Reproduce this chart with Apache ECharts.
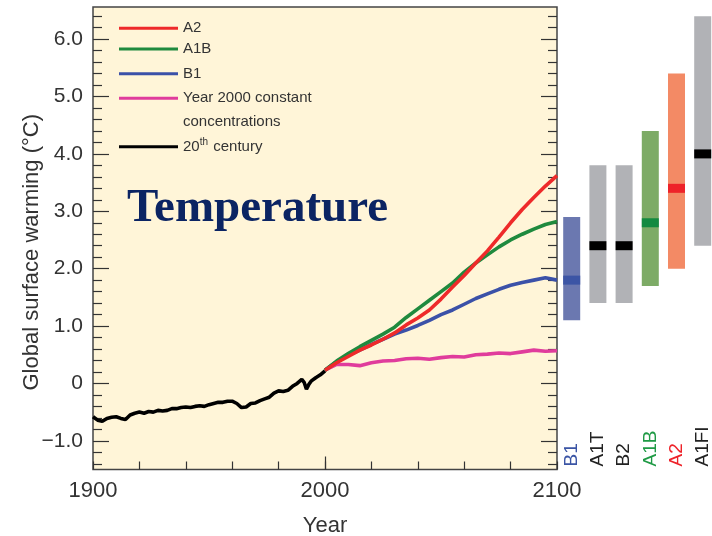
<!DOCTYPE html>
<html>
<head>
<meta charset="utf-8">
<script src="https://cdn.jsdelivr.net/npm/echarts@6/dist/echarts.min.js"></script>
<style>html,body{margin:0;padding:0;background:#fff;}#c{width:712px;height:536px;}</style>
</head>
<body>
<div id="c"></div>
<script>
// ---- data ----
const histYears = [1900,1902,1904,1906,1908,1910,1912,1914,1916,1918,1920,1922,1924,1926,1928,1930,1932,1934,1936,1938,1940,1942,1944,1946,1948,1950,1952,1954,1956,1958,1960,1962,1964,1966,1968,1970,1972,1974,1976,1978,1980,1982,1984,1986,1988,1990,1991,1992,1993,1994,1996,1998,2000];
const histValues = [-0.58,-0.64,-0.66,-0.61,-0.59,-0.58,-0.61,-0.63,-0.55,-0.52,-0.50,-0.52,-0.49,-0.50,-0.47,-0.48,-0.47,-0.44,-0.44,-0.42,-0.41,-0.42,-0.40,-0.39,-0.40,-0.37,-0.35,-0.33,-0.33,-0.31,-0.31,-0.35,-0.42,-0.41,-0.35,-0.34,-0.30,-0.27,-0.24,-0.17,-0.13,-0.14,-0.12,-0.05,0.00,0.07,0.02,-0.10,-0.02,0.04,0.10,0.15,0.22];
const projYears = [2000,2005,2010,2015,2020,2025,2030,2035,2040,2045,2050,2055,2060,2065,2070,2075,2080,2085,2090,2095,2100];
const a2Values   = [0.23,0.36,0.47,0.58,0.67,0.77,0.88,1.02,1.14,1.28,1.47,1.68,1.88,2.10,2.31,2.55,2.80,3.03,3.24,3.44,3.62];
const a1bValues  = [0.23,0.39,0.52,0.64,0.75,0.86,0.98,1.15,1.30,1.45,1.60,1.75,1.94,2.10,2.24,2.38,2.50,2.60,2.69,2.77,2.82];
const b1Values   = [0.23,0.38,0.49,0.58,0.68,0.77,0.86,0.93,1.01,1.10,1.20,1.28,1.38,1.48,1.56,1.64,1.71,1.76,1.80,1.84,1.80];
const constValues= [0.23,0.33,0.33,0.31,0.36,0.39,0.40,0.43,0.44,0.42,0.45,0.47,0.46,0.50,0.51,0.53,0.52,0.55,0.58,0.56,0.57];
const seriesNames = ['A2','A1B','B1','Year 2000 constant concentrations','20th century'];
const rangeCategories = ['B1','A1T','B2','A1B','A2','A1FI'];
const rangeLow  = [1.1,1.4,1.4,1.7,2.0,2.4];
const rangeHigh = [2.9,3.8,3.8,4.4,5.4,6.4];
const rangeBest = [1.8,2.4,2.4,2.8,3.4,4.0];
const yMajorTicks = [-1,0,1,2,3,4,5,6];
const yMinorTicks = [-1.4,-1.2,-0.8,-0.6,-0.4,-0.2,0.2,0.4,0.6,0.8,1.2,1.4,1.6,1.8,2.2,2.4,2.6,2.8,3.2,3.4,3.6,3.8,4.2,4.4,4.6,4.8,5.2,5.4,5.6,5.8,6.2,6.4];
const xLabelValues = [1900,2000,2100];
const xMajorTicks = [2000];

// ---- styles ----
const C = {A2:'#ee2a2a', A1B:'#1f8a3e', B1:'#3b51a8', CONST:'#e03c9c', HIST:'#000000'};
const barFill = ['#6b78b0','#b1b2b6','#b1b2b6','#7dab66','#f38a65','#b1b2b6'];
const bandFill = ['#3c55a5','#000000','#000000','#138a40','#ee2229','#000000'];
const labelColors = ['#3b55a5','#222','#222','#1f9a45','#ee2229','#222'];
const YMIN = -1.5, YMAX = 6.56;
const FONT = 'Liberation Sans, Arial, Helvetica, sans-serif';
const txt = '#333';

const pairs = (xs, ys) => xs.map((x, i) => [x, ys[i]]);

const chart = echarts.init(document.getElementById('c'), null, {renderer: 'canvas'});

function lineSeries(name, data, color, z) {
  return {
    name, type: 'line', data, xAxisIndex: 0, yAxisIndex: 0,
    showSymbol: false, symbol: 'none', smooth: false, z,
    lineStyle: {color, width: 3.6}, itemStyle: {color}, animation: false
  };
}

function legendAt(name, top, extra) {
  return Object.assign({
    data: [name], left: 119, top, orient: 'vertical', padding: 0,
    itemWidth: 59, itemHeight: 3, icon: 'rect', selectedMode: false,
    textStyle: {fontFamily: FONT, fontSize: 15, color: txt, lineHeight: 18}
  }, extra || {});
}

const option = {
  backgroundColor: '#ffffff',
  animation: false,
  title: {
    text: 'Temperature', left: 127, top: 185, padding: 0,
    textStyle: {fontFamily: 'Liberation Serif, Times New Roman, serif', fontWeight: 'bold', fontSize: 47, color: '#0b2463'}
  },
  legend: [
    legendAt(seriesNames[0], 19.3),
    legendAt(seriesNames[1], 40),
    legendAt(seriesNames[2], 64.7),
    legendAt(seriesNames[3], 62.3, {
      formatter: () => '\nYear 2000 constant\nconcentrations',
      textStyle: {fontFamily: FONT, fontSize: 15, color: txt, lineHeight: 24}
    }),
    legendAt(seriesNames[4], 137.7, {
      formatter: () => '20{sup|th} century',
      textStyle: {fontFamily: FONT, fontSize: 15, color: txt, lineHeight: 18,
        rich: {sup: {fontFamily: FONT, fontSize: 10, color: txt, lineHeight: 10, verticalAlign: 'top', padding: [0, 1, 6, 0]}}}
    })
  ],
  grid: [
    {left: 93, right: 155, top: 7, bottom: 66.5, outerBoundsMode: 'none', containLabel: false,
      show: true, backgroundColor: '#fff5d8', borderColor: '#444', borderWidth: 1.5},
    {left: 558.6, right: -3.8, top: 7, bottom: 66.5, outerBoundsMode: 'none', containLabel: false, show: false}
  ],
  xAxis: [
    {type: 'value', gridIndex: 0, position: 'bottom', min: 1900, max: 2100, interval: 20,
      axisLine: {show: false, onZero: false}, splitLine: {show: false},
      axisTick: {inside: true, length: 8, lineStyle: {color: '#333', width: 1.2}},
      axisLabel: {customValues: xLabelValues, margin: 10, fontFamily: FONT, fontSize: 22, color: txt,
        formatter: v => String(v)},
      name: 'Year', nameLocation: 'middle', nameGap: 45, nameMoveOverlap: false,
      nameTextStyle: {fontFamily: FONT, fontSize: 22, color: txt}},
    {type: 'value', gridIndex: 0, position: 'bottom', min: 1900, max: 2100,
      axisLine: {show: false, onZero: false}, splitLine: {show: false},
      axisTick: {inside: true, length: 13, customValues: xMajorTicks, lineStyle: {color: '#333', width: 1.2}},
      axisLabel: {show: false}},
    {type: 'category', gridIndex: 1, position: 'bottom', data: rangeCategories,
      axisLine: {show: false, onZero: false}, axisTick: {show: false}, splitLine: {show: false},
      axisLabel: {inside: true, rotate: 90, margin: 3, fontFamily: FONT, fontSize: 19,
        color: (v, i) => labelColors[i]}}
  ],
  yAxis: [
    {type: 'value', gridIndex: 0, position: 'left', min: YMIN, max: YMAX,
      axisLine: {show: false, onZero: false}, splitLine: {show: false},
      axisTick: {inside: true, length: 16, customValues: yMajorTicks, lineStyle: {color: '#333', width: 1.2}},
      axisLabel: {customValues: yMajorTicks, margin: 10, fontFamily: FONT, fontSize: 21, color: txt,
        formatter: v => v === 0 ? '0' : (v < 0 ? '\u2212' : '') + Math.abs(v).toFixed(1)},
      name: 'Global surface warming (\u00B0C)', nameLocation: 'middle', nameGap: 50, nameRotate: 90,
      nameMoveOverlap: false,
      nameTextStyle: {fontFamily: FONT, fontSize: 22, color: txt, padding: [0, 28, 0, 0]}},
    {type: 'value', gridIndex: 0, position: 'left', min: YMIN, max: YMAX,
      axisLine: {show: false, onZero: false}, splitLine: {show: false},
      axisTick: {inside: true, length: 9, customValues: yMinorTicks, lineStyle: {color: '#333', width: 1.2}},
      axisLabel: {show: false}},
    {type: 'value', gridIndex: 0, position: 'right', min: YMIN, max: YMAX,
      axisLine: {show: false, onZero: false}, splitLine: {show: false},
      axisTick: {inside: true, length: 16, customValues: yMajorTicks, lineStyle: {color: '#333', width: 1.2}},
      axisLabel: {show: false}},
    {type: 'value', gridIndex: 0, position: 'right', min: YMIN, max: YMAX,
      axisLine: {show: false, onZero: false}, splitLine: {show: false},
      axisTick: {inside: true, length: 9, customValues: yMinorTicks, lineStyle: {color: '#333', width: 1.2}},
      axisLabel: {show: false}},
    {type: 'value', gridIndex: 1, min: YMIN, max: YMAX, show: false}
  ],
  series: [
    lineSeries(seriesNames[3], pairs(projYears, constValues), C.CONST, 2),
    lineSeries(seriesNames[2], pairs(projYears, b1Values), C.B1, 3),
    lineSeries(seriesNames[1], pairs(projYears, a1bValues), C.A1B, 4),
    lineSeries(seriesNames[0], pairs(projYears, a2Values), C.A2, 5),
    lineSeries(seriesNames[4], pairs(histYears, histValues), C.HIST, 6),
    {
      type: 'custom', xAxisIndex: 2, yAxisIndex: 4, animation: false,
      data: rangeCategories.map((c, i) => [i, rangeLow[i], rangeHigh[i], rangeBest[i]]),
      renderItem: (params, api) => {
        const i = api.value(0);
        const lo = api.coord([i, api.value(1)]);
        const hi = api.coord([i, api.value(2)]);
        const md = api.coord([i, api.value(3)]);
        const w = 17, bh = 9;
        return {type: 'group', children: [
          {type: 'rect', shape: {x: lo[0] - w / 2, y: hi[1], width: w, height: lo[1] - hi[1]}, style: {fill: barFill[i]}},
          {type: 'rect', shape: {x: md[0] - w / 2, y: md[1] - bh / 2, width: w, height: bh}, style: {fill: bandFill[i]}}
        ]};
      }
    }
  ]
};
chart.setOption(option);
</script>
</body>
</html>
